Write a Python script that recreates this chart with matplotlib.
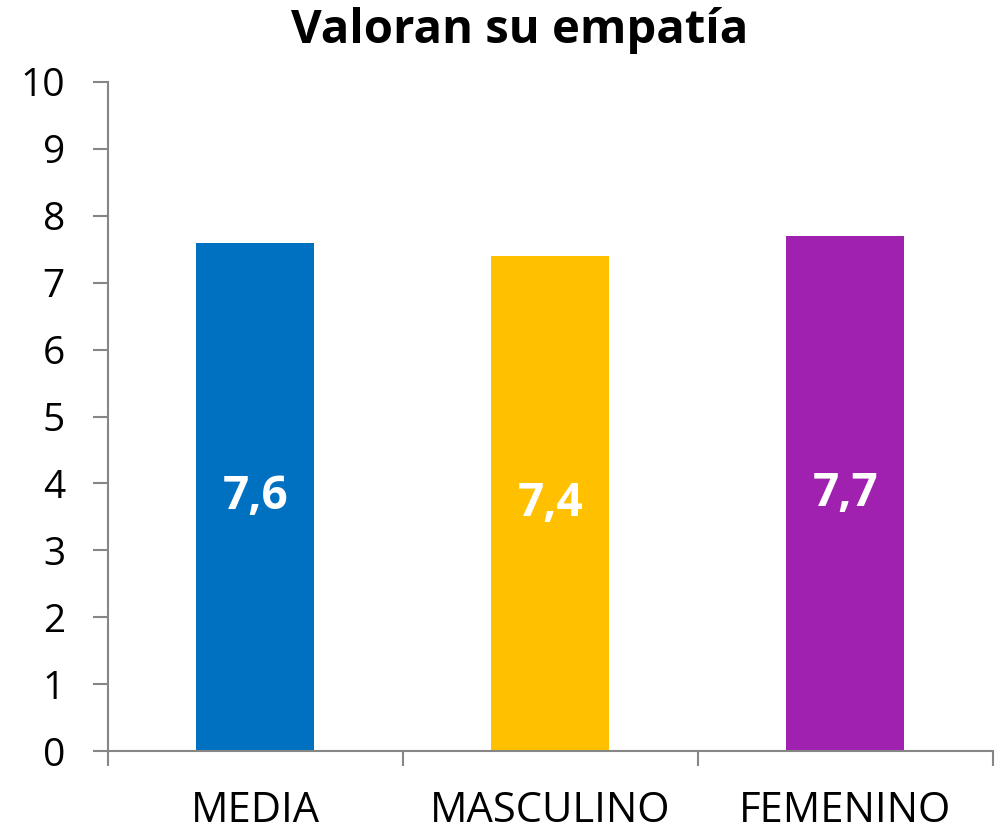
import matplotlib.pyplot as plt
import numpy as np

plt.rcParams['font.family'] = ['Open Sans', 'DejaVu Sans']

categories = ["MEDIA", "MASCULINO", "FEMENINO"]
values = [7.6, 7.4, 7.7]
labels = ["7,6", "7,4", "7,7"]
colors = ["#0070C0", "#FFC000", "#A020B0"]
yticks = list(range(0, 11))

AXIS = "#868686"

fig = plt.figure(figsize=(10.03, 8.32), dpi=100)
ax = fig.add_axes([108 / 1003, 81 / 832, 885 / 1003, 669 / 832])

x = np.arange(len(categories))
bars = ax.bar(x, values, width=0.40, color=colors, zorder=2)
for b, v, lab in zip(bars, values, labels):
    ax.text(b.get_x() + b.get_width() / 2, v / 2, lab, ha="center", va="center",
            color="white", fontsize=33, fontweight="bold")

ax.set_xlim(-0.5, len(categories) - 0.5)
ax.set_ylim(0, 10)
ax.set_yticks(yticks)
ax.set_yticklabels([str(t) for t in yticks], fontsize=28)

# category labels centred, tick marks at boundaries
ax.set_xticks(x)
ax.set_xticklabels(categories, fontsize=30)
ax.tick_params(axis="x", length=0, pad=28)
ax.set_xticks(np.arange(-0.5, len(categories)), minor=True)
ax.tick_params(axis="x", which="minor", length=11, width=1.5, color=AXIS)
ax.tick_params(axis="y", length=11, width=1.5, color=AXIS, pad=20)

for s in ["top", "right"]:
    ax.spines[s].set_visible(False)
for s in ["left", "bottom"]:
    ax.spines[s].set_color(AXIS)
    ax.spines[s].set_linewidth(1.5)

fig.text(520 / 1003, 1 - 30 / 832, "Valoran su empatía", ha="center", va="center",
         fontsize=34, fontweight="bold")

fig.savefig("out.png", dpi=100)
